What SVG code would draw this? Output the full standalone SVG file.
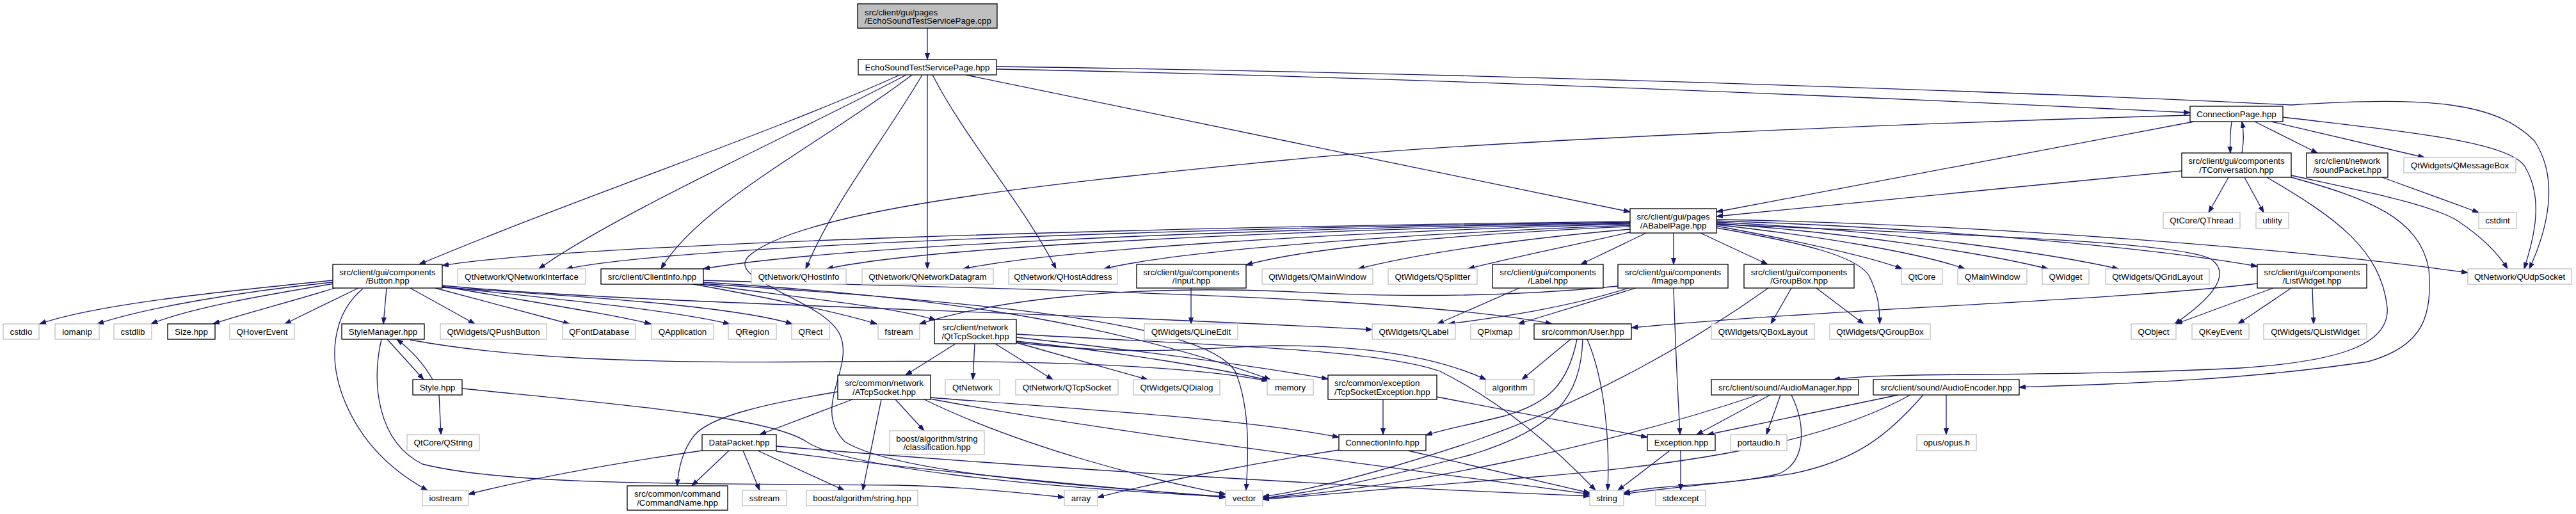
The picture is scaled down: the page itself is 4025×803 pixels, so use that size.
<svg xmlns="http://www.w3.org/2000/svg" width="4025" height="803" viewBox="0 0 4025 803">
<style>
rect{fill:#fff;stroke-width:1.3}
.b rect{stroke:#000}
.g rect{stroke:#bfbfbf}
text{font-family:"Liberation Sans",Arial,Helvetica,sans-serif;font-size:13.33px;text-anchor:middle;fill:#000}
#edges path{fill:none;stroke:#191970;stroke-width:1.3;marker-end:url(#a)}
</style>
<defs>
<marker id="a" markerWidth="11" markerHeight="8" refX="10" refY="4" orient="auto" markerUnits="userSpaceOnUse"><path d="M0,0.5 L10,4 L0,7.5z" fill="#191970" stroke="#191970" stroke-width="1"/></marker>
</defs>
<rect x="0" y="0" width="4025" height="803" style="fill:#fff;stroke:none"/>
<g id="edges">
<path d="M1449,44 L1449,93"/>
<path d="M1406,117 C1200,210 900,310 655,413"/>
<path d="M1416,117 C1250,205 960,335 842,420"/>
<path d="M1425,117 C1290,220 1090,320 1033,420"/>
<path d="M1441,117 C1380,220 1300,320 1259,420"/>
<path d="M1449,117 L1449,420"/>
<path d="M1457,117 C1510,220 1600,320 1650,420"/>
<path d="M1509,117 L2547,331"/>
<path d="M1557,108 C2200,120 3000,155 3422,176"/>
<path d="M1557,104 C2400,115 3300,150 3580,164 C3800,150 3900,160 3960,220 C4000,280 3980,360 3952,420"/>
<path d="M3487,190 C3484,210 3484,222 3485,239"/>
<path d="M3503,239 C3506,222 3506,205 3503,190"/>
<path d="M3523,190 L3621,239"/>
<path d="M3549,190 L3788,246"/>
<path d="M3567,183 C3750,205 3920,220 3945,260 C3975,310 3960,370 3944,420"/>
<path d="M3428,190 L2682,331"/>
<path d="M3422,180 C3000,192 2300,220 2010,250 C1600,290 1250,330 1170,400 C1130,440 1300,470 1315,530 C1330,580 1270,640 1320,690 C1400,740 1700,760 1915,776"/>
<path d="M3409,267 L2682,338"/>
<path d="M3482,277 L3451,332"/>
<path d="M3507,277 L3537,332"/>
<path d="M3542,277 C3650,340 3720,390 3730,480 C3735,540 3650,565 3500,575 C3200,590 2950,580 2865,593"/>
<path d="M3580,277 C3700,310 3780,340 3795,420 C3800,490 3790,540 3700,565 C3500,595 3300,600 3155,605"/>
<path d="M3580,274 C3700,300 3800,320 3840,345 C3870,365 3900,390 3918,420"/>
<path d="M3722,277 L3873,332"/>
<path d="M2547,346 C1800,355 900,380 691,415"/>
<path d="M2547,347 C1800,357 1050,385 885,420"/>
<path d="M2547,348 C1900,358 1300,385 1099,420"/>
<path d="M2547,349 C2000,360 1450,385 1292,420"/>
<path d="M2547,350 C2100,362 1650,390 1505,420"/>
<path d="M2547,352 C2200,365 1850,390 1725,420"/>
<path d="M2547,354 C2300,365 2050,385 1947,414"/>
<path d="M2548,358 C2350,375 2200,400 2122,420"/>
<path d="M2550,362 C2450,385 2350,405 2294,420"/>
<path d="M2572,364 L2470,413"/>
<path d="M2615,364 L2615,413"/>
<path d="M2657,364 L2762,413"/>
<path d="M2682,356 C2820,380 2900,400 2920,430 C2935,460 2937,480 2937,506"/>
<path d="M2682,353 C2800,375 2920,400 2972,420"/>
<path d="M2682,351 C2850,370 3000,395 3070,420"/>
<path d="M2682,349 C2900,365 3100,395 3200,420"/>
<path d="M2682,347 C2950,360 3200,395 3310,420"/>
<path d="M2682,345 C3000,355 3350,385 3527,416"/>
<path d="M2682,343 C3100,350 3600,390 3856,426"/>
<path d="M2682,350 C3000,365 3400,375 3455,405 C3490,430 3450,470 3398,506"/>
<path d="M3552,450 L3400,506"/>
<path d="M3580,450 L3497,506"/>
<path d="M3613,450 L3615,506"/>
<path d="M3527,443 C3300,470 2900,480 2549,512"/>
<path d="M520,438 C350,455 150,475 62,506"/>
<path d="M520,441 C380,455 230,480 152,506"/>
<path d="M522,443 C420,460 300,480 236,506"/>
<path d="M523,450 C460,470 380,490 333,506"/>
<path d="M560,450 L445,506"/>
<path d="M604,450 L599,506"/>
<path d="M641,450 L742,506"/>
<path d="M680,450 L890,506"/>
<path d="M690,447 C850,475 950,490 1017,506"/>
<path d="M690,448 C900,470 1050,485 1140,506"/>
<path d="M690,449 C950,465 1150,480 1238,506"/>
<path d="M690,446 C1000,475 1600,485 2144,515"/>
<path d="M567,451 C520,490 510,560 540,630 C570,700 620,740 668,766"/>
<path d="M1078,443 C1200,465 1300,485 1370,506"/>
<path d="M1088,443 C1250,465 1400,480 1462,500"/>
<path d="M1099,438 C1500,450 2200,460 2425,506"/>
<path d="M1099,441 C1400,460 1700,490 1985,593"/>
<path d="M1095,443 C1500,470 1880,500 1930,580 C1955,640 1950,720 1947,766"/>
<path d="M1861,450 L1861,506"/>
<path d="M2374,450 L2246,506"/>
<path d="M2545,450 C2450,480 2350,495 2263,506"/>
<path d="M2556,450 L2372,506"/>
<path d="M2528,447 C2300,470 2100,460 2000,455 C1750,445 1550,470 1437,506"/>
<path d="M2615,450 C2618,550 2622,620 2625,679"/>
<path d="M2799,450 L2767,506"/>
<path d="M2838,450 L2912,506"/>
<path d="M2763,450 C2650,530 2500,620 2300,690 C2150,740 2050,765 1973,776"/>
<path d="M2454,530 L2378,593"/>
<path d="M2464,530 C2450,600 2420,630 2350,650 C2290,665 2250,672 2228,680"/>
<path d="M2473,530 C2470,620 2430,670 2300,710 C2150,750 2050,770 1973,778"/>
<path d="M2480,530 C2510,600 2515,700 2512,766"/>
<path d="M2161,624 L2161,679"/>
<path d="M2245,620 L2574,683"/>
<path d="M2092,703 C1950,725 1800,755 1715,777"/>
<path d="M2200,704 L2484,770"/>
<path d="M2609,704 L2528,766"/>
<path d="M2626,704 L2626,766"/>
<path d="M2747,617 C2500,700 2200,760 1973,779"/>
<path d="M2766,617 L2651,679"/>
<path d="M2782,617 L2760,679"/>
<path d="M2799,617 C2820,660 2825,720 2780,740 C2700,760 2600,755 2537,770"/>
<path d="M2966,617 L2668,679"/>
<path d="M2985,617 C2870,680 2700,720 2400,745 C2200,760 2050,775 1973,780"/>
<path d="M3005,617 C2950,680 2900,720 2800,740 C2700,755 2600,762 2537,772"/>
<path d="M3041,617 L3041,679"/>
<path d="M1493,537 L1415,586"/>
<path d="M1523,537 L1520,593"/>
<path d="M1555,537 L1645,593"/>
<path d="M1587,535 L1793,593"/>
<path d="M1588,533 C1750,550 1900,575 1982,594"/>
<path d="M1588,527 C1800,550 1950,570 2075,592"/>
<path d="M1588,535 C1800,560 1900,540 2000,540 C2150,540 2250,560 2322,593"/>
<path d="M1588,522 C1900,540 2150,545 2250,580 C2350,630 2430,700 2493,766"/>
<path d="M1332,624 L1187,679"/>
<path d="M1309,612 C1200,630 1110,650 1085,680 C1065,705 1060,735 1058,759"/>
<path d="M1377,624 L1348,766"/>
<path d="M1399,624 L1444,673"/>
<path d="M1444,624 C1600,700 1800,750 1915,772"/>
<path d="M1453,621 C1700,640 1950,655 2092,683"/>
<path d="M1453,623 C1700,670 2100,720 2484,772"/>
<path d="M1139,704 L1081,759"/>
<path d="M1161,704 L1187,766"/>
<path d="M1184,704 L1319,766"/>
<path d="M1213,705 C1400,730 1700,760 1915,777"/>
<path d="M1213,697 C1600,730 2100,760 2484,775"/>
<path d="M1097,704 C950,725 820,750 732,772"/>
<path d="M605,530 L662,593"/>
<path d="M641,531 C800,560 1000,568 1300,565 C1600,562 1850,570 1981,595"/>
<path d="M596,530 C580,600 590,690 660,725 C800,760 1100,755 1400,758 C1500,760 1600,770 1663,777"/>
<path d="M676,593 C660,565 640,545 620,530"/>
<path d="M686,617 L689,679"/>
<path d="M722,607 C950,630 1200,650 1260,690 C1320,730 1600,760 1915,776"/>
</g>
<g id="n_cpp" class="b"><rect x="1340" y="6" width="218" height="38" style="fill:#bfbfbf"/><text x="1351" y="23.5" style="text-anchor:start">src/client/gui/pages</text><text x="1351" y="37" style="text-anchor:start">/EchoSoundTestServicePage.cpp</text></g>
<g id="n_echo" class="b"><rect x="1341" y="93" width="216" height="24"/><text x="1449" y="109.7">EchoSoundTestServicePage.hpp</text></g>
<g id="n_connpage" class="b"><rect x="3422" y="166" width="145" height="24"/><text x="3494.5" y="182.7">ConnectionPage.hpp</text></g>
<g id="n_tconv" class="b"><rect x="3409" y="239" width="171" height="38"/><text x="3494.5" y="256.2">src/client/gui/components</text><text x="3494.5" y="269.5">/TConversation.hpp</text></g>
<g id="n_soundpacket" class="b"><rect x="3604" y="239" width="127" height="38"/><text x="3667.5" y="256.2">src/client/network</text><text x="3667.5" y="269.5">/soundPacket.hpp</text></g>
<g id="n_qmessagebox" class="g"><rect x="3756" y="246" width="175" height="24"/><text x="3843.5" y="262.7">QtWidgets/QMessageBox</text></g>
<g id="n_ababel" class="b"><rect x="2547" y="326" width="135" height="38"/><text x="2614.5" y="343.2">src/client/gui/pages</text><text x="2614.5" y="356.5">/ABabelPage.hpp</text></g>
<g id="n_qthread" class="g"><rect x="3380" y="332" width="120" height="25"/><text x="3440" y="349.2">QtCore/QThread</text></g>
<g id="n_utility" class="g"><rect x="3525" y="332" width="51" height="25"/><text x="3550.5" y="349.2">utility</text></g>
<g id="n_cstdint" class="g"><rect x="3873" y="332" width="59" height="25"/><text x="3902.5" y="349.2">cstdint</text></g>
<g id="n_button" class="b"><rect x="520" y="413" width="171" height="37"/><text x="605.5" y="429.7">src/client/gui/components</text><text x="605.5" y="443">/Button.hpp</text></g>
<g id="n_qnetworkinterface" class="g"><rect x="715" y="420" width="200" height="24"/><text x="815" y="436.7">QtNetwork/QNetworkInterface</text></g>
<g id="n_clientinfo" class="b"><rect x="939" y="420" width="160" height="24"/><text x="1019" y="436.7">src/client/ClientInfo.hpp</text></g>
<g id="n_qhostinfo" class="g"><rect x="1174" y="420" width="148" height="24"/><text x="1248" y="436.7">QtNetwork/QHostInfo</text></g>
<g id="n_qnetworkdatagram" class="g"><rect x="1347" y="420" width="205" height="24"/><text x="1449.5" y="436.7">QtNetwork/QNetworkDatagram</text></g>
<g id="n_qhostaddress" class="g"><rect x="1576" y="420" width="170" height="24"/><text x="1661" y="436.7">QtNetwork/QHostAddress</text></g>
<g id="n_input" class="b"><rect x="1776" y="413" width="171" height="37"/><text x="1861.5" y="429.7">src/client/gui/components</text><text x="1861.5" y="443">/Input.hpp</text></g>
<g id="n_qwmainwindow" class="g"><rect x="1972" y="420" width="173" height="24"/><text x="2058.5" y="436.7">QtWidgets/QMainWindow</text></g>
<g id="n_qsplitter" class="g"><rect x="2169" y="420" width="139" height="24"/><text x="2238.5" y="436.7">QtWidgets/QSplitter</text></g>
<g id="n_label" class="b"><rect x="2332" y="413" width="173" height="37"/><text x="2418.5" y="429.7">src/client/gui/components</text><text x="2418.5" y="443">/Label.hpp</text></g>
<g id="n_image" class="b"><rect x="2528" y="413" width="172" height="37"/><text x="2614" y="429.7">src/client/gui/components</text><text x="2614" y="443">/Image.hpp</text></g>
<g id="n_groupbox" class="b"><rect x="2725" y="413" width="172" height="37"/><text x="2811" y="429.7">src/client/gui/components</text><text x="2811" y="443">/GroupBox.hpp</text></g>
<g id="n_qtcore" class="g"><rect x="2971" y="420" width="64" height="24"/><text x="3003" y="436.7">QtCore</text></g>
<g id="n_qmainwindow" class="g"><rect x="3059" y="420" width="108" height="24"/><text x="3113" y="436.7">QMainWindow</text></g>
<g id="n_qwidget" class="g"><rect x="3191" y="420" width="73" height="24"/><text x="3227.5" y="436.7">QWidget</text></g>
<g id="n_qgridlayout" class="g"><rect x="3290" y="420" width="162" height="24"/><text x="3371" y="436.7">QtWidgets/QGridLayout</text></g>
<g id="n_listwidget" class="b"><rect x="3527" y="413" width="171" height="37"/><text x="3612.5" y="429.7">src/client/gui/components</text><text x="3612.5" y="443">/ListWidget.hpp</text></g>
<g id="n_qudpsocket" class="g"><rect x="3856" y="420" width="162" height="24"/><text x="3937" y="436.7">QtNetwork/QUdpSocket</text></g>
<g id="n_cstdio" class="g"><rect x="5" y="506" width="56" height="24"/><text x="33" y="522.7">cstdio</text></g>
<g id="n_iomanip" class="g"><rect x="86" y="506" width="69" height="24"/><text x="120.5" y="522.7">iomanip</text></g>
<g id="n_cstdlib" class="g"><rect x="178" y="506" width="59" height="24"/><text x="207.5" y="522.7">cstdlib</text></g>
<g id="n_size" class="b"><rect x="262" y="506" width="74" height="24"/><text x="299" y="522.7">Size.hpp</text></g>
<g id="n_qhoverevent" class="g"><rect x="359" y="506" width="101" height="24"/><text x="409.5" y="522.7">QHoverEvent</text></g>
<g id="n_stylemanager" class="b"><rect x="534" y="506" width="129" height="24"/><text x="598.5" y="522.7">StyleManager.hpp</text></g>
<g id="n_qpushbutton" class="g"><rect x="688" y="506" width="166" height="24"/><text x="771" y="522.7">QtWidgets/QPushButton</text></g>
<g id="n_qfontdatabase" class="g"><rect x="879" y="506" width="114" height="24"/><text x="936" y="522.7">QFontDatabase</text></g>
<g id="n_qapplication" class="g"><rect x="1018" y="506" width="97" height="24"/><text x="1066.5" y="522.7">QApplication</text></g>
<g id="n_qregion" class="g"><rect x="1138" y="506" width="75" height="24"/><text x="1175.5" y="522.7">QRegion</text></g>
<g id="n_qrect" class="g"><rect x="1237" y="506" width="59" height="24"/><text x="1266.5" y="522.7">QRect</text></g>
<g id="n_fstream" class="g"><rect x="1372" y="506" width="65" height="24"/><text x="1404.5" y="522.7">fstream</text></g>
<g id="n_qttcpsocket" class="b"><rect x="1460" y="499" width="128" height="38"/><text x="1524" y="516.2">src/client/network</text><text x="1524" y="529.5">/QtTcpSocket.hpp</text></g>
<g id="n_qlineedit" class="g"><rect x="1788" y="506" width="146" height="24"/><text x="1861" y="522.7">QtWidgets/QLineEdit</text></g>
<g id="n_qlabel" class="g"><rect x="2144" y="506" width="130" height="24"/><text x="2209" y="522.7">QtWidgets/QLabel</text></g>
<g id="n_qpixmap" class="g"><rect x="2298" y="506" width="76" height="24"/><text x="2336" y="522.7">QPixmap</text></g>
<g id="n_user" class="b"><rect x="2397" y="506" width="152" height="24"/><text x="2473" y="522.7">src/common/User.hpp</text></g>
<g id="n_qboxlayout" class="g"><rect x="2674" y="506" width="161" height="24"/><text x="2754.5" y="522.7">QtWidgets/QBoxLayout</text></g>
<g id="n_qgroupbox" class="g"><rect x="2859" y="506" width="157" height="24"/><text x="2937.5" y="522.7">QtWidgets/QGroupBox</text></g>
<g id="n_qobject" class="g"><rect x="3330" y="506" width="70" height="24"/><text x="3365" y="522.7">QObject</text></g>
<g id="n_qkeyevent" class="g"><rect x="3425" y="506" width="89" height="24"/><text x="3469.5" y="522.7">QKeyEvent</text></g>
<g id="n_qlistwidget" class="g"><rect x="3537" y="506" width="161" height="24"/><text x="3617.5" y="522.7">QtWidgets/QListWidget</text></g>
<g id="n_style" class="b"><rect x="645" y="593" width="77" height="24"/><text x="683.5" y="609.7">Style.hpp</text></g>
<g id="n_atcpsocket" class="b"><rect x="1309" y="586" width="145" height="38"/><text x="1381.5" y="603.2">src/common/network</text><text x="1381.5" y="616.5">/ATcpSocket.hpp</text></g>
<g id="n_qtnetwork" class="g"><rect x="1477" y="593" width="85" height="24"/><text x="1519.5" y="609.7">QtNetwork</text></g>
<g id="n_qtcpsocket" class="g"><rect x="1587" y="593" width="160" height="24"/><text x="1667" y="609.7">QtNetwork/QTcpSocket</text></g>
<g id="n_qdialog" class="g"><rect x="1771" y="593" width="135" height="24"/><text x="1838.5" y="609.7">QtWidgets/QDialog</text></g>
<g id="n_memory" class="g"><rect x="1980" y="593" width="72" height="24"/><text x="2016" y="609.7">memory</text></g>
<g id="n_tcpsocketexception" class="b"><rect x="2075" y="586" width="170" height="38"/><text x="2085" y="603.2" style="text-anchor:start">src/common/exception</text><text x="2085" y="616.5" style="text-anchor:start">/TcpSocketException.hpp</text></g>
<g id="n_algorithm" class="g"><rect x="2321" y="593" width="76" height="24"/><text x="2359" y="609.7">algorithm</text></g>
<g id="n_audiomanager" class="b"><rect x="2674" y="593" width="230" height="24"/><text x="2789" y="609.7">src/client/sound/AudioManager.hpp</text></g>
<g id="n_audioencoder" class="b"><rect x="2927" y="593" width="228" height="24"/><text x="3041" y="609.7">src/client/sound/AudioEncoder.hpp</text></g>
<g id="n_qstring" class="g"><rect x="636" y="679" width="113" height="25"/><text x="692.5" y="696">QtCore/QString</text></g>
<g id="n_datapacket" class="b"><rect x="1097" y="679" width="116" height="25"/><text x="1155" y="696">DataPacket.hpp</text></g>
<g id="n_classification" class="g"><rect x="1390" y="673" width="148" height="37"/><text x="1464" y="689.7">boost/algorithm/string</text><text x="1464" y="703">/classification.hpp</text></g>
<g id="n_connectioninfo" class="b"><rect x="2092" y="679" width="136" height="25"/><text x="2160" y="696">ConnectionInfo.hpp</text></g>
<g id="n_exception" class="b"><rect x="2574" y="679" width="106" height="25"/><text x="2627" y="696">Exception.hpp</text></g>
<g id="n_portaudio" class="g"><rect x="2704" y="679" width="88" height="25"/><text x="2748" y="696">portaudio.h</text></g>
<g id="n_opus" class="g"><rect x="2995" y="679" width="93" height="25"/><text x="3041.5" y="696">opus/opus.h</text></g>
<g id="n_iostream" class="g"><rect x="660" y="766" width="72" height="24"/><text x="696" y="782.7">iostream</text></g>
<g id="n_commandname" class="b"><rect x="980" y="759" width="157" height="38"/><text x="1058.5" y="776.2">src/common/command</text><text x="1058.5" y="789.5">/CommandName.hpp</text></g>
<g id="n_sstream" class="g"><rect x="1160" y="766" width="69" height="24"/><text x="1194.5" y="782.7">sstream</text></g>
<g id="n_booststring" class="g"><rect x="1260" y="766" width="174" height="24"/><text x="1347" y="782.7">boost/algorithm/string.hpp</text></g>
<g id="n_array" class="g"><rect x="1663" y="766" width="52" height="24"/><text x="1689" y="782.7">array</text></g>
<g id="n_vector" class="g"><rect x="1915" y="766" width="58" height="24"/><text x="1944" y="782.7">vector</text></g>
<g id="n_string" class="g"><rect x="2484" y="766" width="53" height="24"/><text x="2510.5" y="782.7">string</text></g>
<g id="n_stdexcept" class="g"><rect x="2587" y="766" width="78" height="24"/><text x="2626" y="782.7">stdexcept</text></g>
</svg>
